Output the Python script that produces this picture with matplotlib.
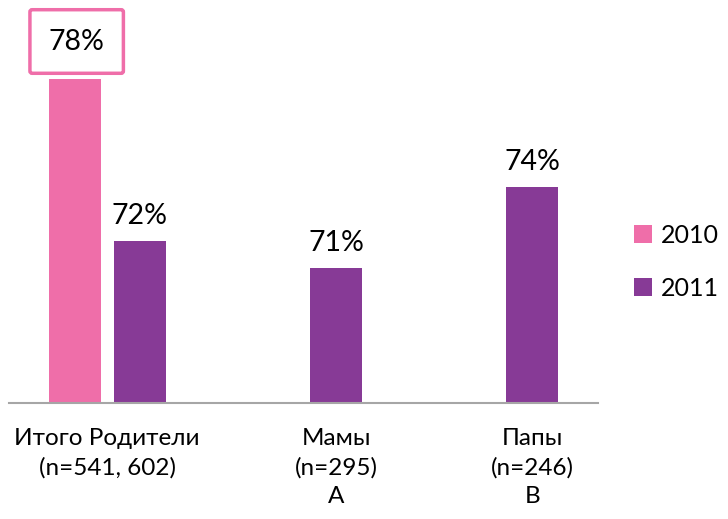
import numpy as np
import matplotlib.pyplot as plt

plt.rcParams['font.family'] = ['Lato', 'DejaVu Sans']

categories = ['Итого Родители\n(n=541, 602)', 'Мамы\n(n=295)\nA', 'Папы\n(n=246)\nB']
values_2010 = [78, np.nan, np.nan]
values_2011 = [72, 71, 74]
series = ['2010', '2011']
colors = ['#EF6EA9', '#873A96']

fig = plt.figure(figsize=(7.28, 5.19), dpi=100)
ax = fig.add_axes([9 / 728, 116 / 519, 589 / 728, 378 / 519])

x = np.arange(len(categories))
w = 0.265
off = 0.166
b1 = ax.bar(x - off, values_2010, w, color=colors[0], label=series[0])
b2 = ax.bar(x + off, values_2011, w, color=colors[1], label=series[1])

ax.set_xlim(-0.5, 2.5)
ax.set_ylim(66, 80)
ax.set_yticks([])
for s in ['top', 'right', 'left']:
    ax.spines[s].set_visible(False)
ax.spines['bottom'].set_color('#A6A6A6')
ax.spines['bottom'].set_linewidth(1.5)

# tick labels: first at the group, others under the 2011 bar
ax.set_xticks([x[0], x[1] + off, x[2] + off])
ax.set_xticklabels(categories, fontsize=17.5, linespacing=1.45)
ax.tick_params(axis='x', length=0, pad=18)

# value labels
for xi, v in zip(x, values_2011):
    ax.annotate(f'{v}%', (xi + off, v), xytext=(0, 12), textcoords='offset points',
                ha='center', va='baseline', fontsize=20.5)
ax.annotate(f'{values_2010[0]}%', (x[0] - off, values_2010[0]), xytext=(1.5, 27),
            textcoords='offset points', ha='center', va='center', fontsize=20.5,
            bbox=dict(boxstyle='round,pad=0.66,rounding_size=0.08', fc='white',
                      ec=colors[0], lw=2.5))

leg = fig.legend(handles=[b1, b2], labels=series, loc='center left',
                 bbox_to_anchor=(621 / 728, 1 - 262 / 519), frameon=False,
                 fontsize=18, handlelength=0.75, handleheight=0.75,
                 handletextpad=0.35, labelspacing=1.2, borderpad=0)

fig.savefig('out.png', dpi=100)
